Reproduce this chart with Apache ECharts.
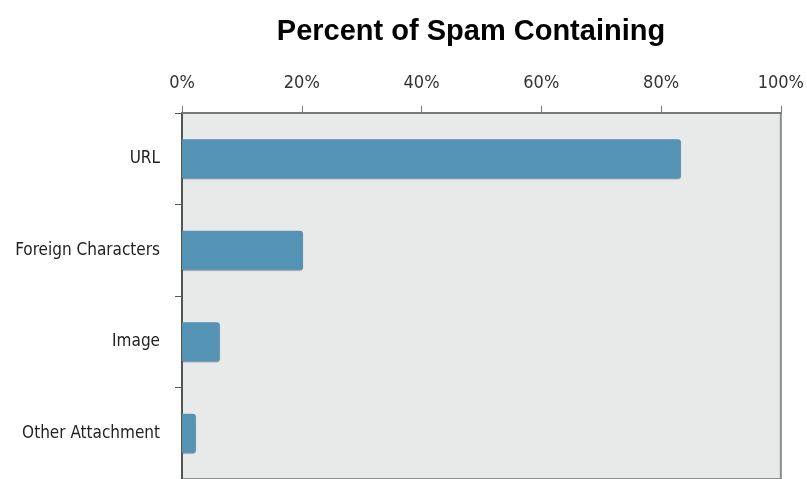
<!DOCTYPE html>
<html>
<head>
<meta charset="utf-8">
<script src="https://cdn.jsdelivr.net/npm/echarts@6/dist/echarts.min.js"></script>
<style>
html,body{margin:0;padding:0;background:#fff;}
#c{width:807px;height:479px;}
</style>
</head>
<body>
<div id="c"></div>
<script>
var categories = ["URL", "Foreign Characters", "Image", "Other Attachment"];
var values = [83.3, 20.2, 6.3, 2.3];
var titleText = "Percent of Spam Containing";

var chart = echarts.init(document.getElementById('c'), null, {renderer: 'canvas'});
var labelFont = '"Liberation Sans Narrow", "DejaVu Sans Condensed", sans-serif';
chart.setOption({
  animation: false,
  backgroundColor: '#ffffff',
  title: {
    text: titleText,
    left: 466, textAlign: 'center',
    top: 12,
    textStyle: {fontFamily: 'Liberation Sans, Arial, sans-serif', fontWeight: 'bold', fontSize: 29, color: '#000'}
  },
  grid: {
    left: 182, top: 113, width: 600, height: 370,
    show: true, backgroundColor: '#e8eaea', borderColor: '#8c8c8c', borderWidth: 2
  },
  xAxis: {
    type: 'value', position: 'top', min: 0, max: 100, interval: 20,
    axisLine: {show: true, lineStyle: {color: '#7a7a7a', width: 2}},
    axisTick: {show: true, length: 7, lineStyle: {color: '#7a7a7a', width: 1}},
    splitLine: {show: false},
    axisLabel: {formatter: '{value}%', fontFamily: labelFont, fontSize: 18, color: '#333', margin: 21}
  },
  yAxis: {
    type: 'category', data: categories, inverse: true,
    axisLine: {show: true, lineStyle: {color: '#555', width: 2}},
    axisTick: {show: true, length: 7, lineStyle: {color: '#555', width: 1}},
    axisLabel: {fontFamily: labelFont, fontSize: 17, color: '#222', margin: 22, padding: [0, 0, 6, 0]}
  },
  series: [{
    type: 'bar', data: values, barWidth: 39,
    itemStyle: {color: '#5593b4', borderRadius: [0, 3, 3, 0],
      shadowColor: 'rgba(40,70,90,0.5)', shadowBlur: 1, shadowOffsetY: 1}
  }]
});
</script>
</body>
</html>
